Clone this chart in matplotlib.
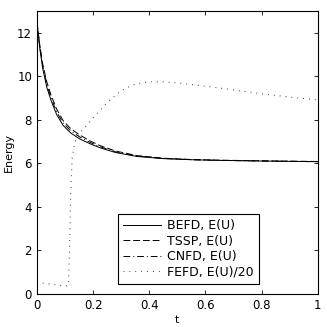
import matplotlib
matplotlib.use("Agg")
import matplotlib.pyplot as plt

# energy curves
t_e = [0, 0.01, 0.02, 0.035, 0.05, 0.07, 0.093, 0.12, 0.153, 0.19, 0.224, 0.28, 0.356, 0.45, 0.55, 0.65, 0.8, 1.0]
befd = [12.5, 11.3, 10.4, 9.5, 8.9, 8.25, 7.75, 7.4, 7.12, 6.9, 6.72, 6.5, 6.32, 6.22, 6.17, 6.14, 6.11, 6.08]
tssp = [12.5, 11.45, 10.6, 9.75, 9.15, 8.5, 7.97, 7.6, 7.3, 7.03, 6.82, 6.57, 6.36, 6.24, 6.18, 6.15, 6.12, 6.09]
cnfd = [12.5, 11.38, 10.5, 9.62, 9.02, 8.37, 7.86, 7.5, 7.21, 6.96, 6.77, 6.53, 6.34, 6.23, 6.17, 6.14, 6.11, 6.08]

t_f = [0, 0.02, 0.05, 0.08, 0.1, 0.112, 0.116, 0.12, 0.125, 0.135, 0.16, 0.2, 0.25, 0.3, 0.35, 0.4, 0.45, 0.5, 0.6, 0.7, 0.8, 0.9, 1.0]
fefd = [0.55, 0.5, 0.45, 0.4, 0.37, 0.38, 2.0, 4.5, 6.2, 7.0, 7.5, 8.1, 8.8, 9.35, 9.65, 9.75, 9.75, 9.7, 9.55, 9.38, 9.2, 9.05, 8.92]

plt.rc('font', size=8)
fig = plt.figure(figsize=(3.27, 3.27), dpi=100)
ax = fig.add_axes([0.113, 0.101, 0.859, 0.865])

ax.plot(t_e, befd, color='k', ls='-', lw=0.7, label='BEFD, E(U)')
ax.plot(t_e, tssp, color='k', lw=0.7, dashes=(7, 3), label='TSSP, E(U)')
ax.plot(t_e, cnfd, color='k', lw=0.7, dashes=(7, 3, 1, 3), label='CNFD, E(U)')
ax.plot(t_f, fefd, color='0.25', lw=0.8, dashes=(0.8, 4.5), label='FEFD, E(U)/20')

ax.set_xlim(0, 1)
ax.set_ylim(0, 13)
ax.set_xticks([0, 0.2, 0.4, 0.6, 0.8, 1])
ax.set_xticklabels(['0', '0.2', '0.4', '0.6', '0.8', '1'])
ax.set_yticks([0, 2, 4, 6, 8, 10, 12])
ax.tick_params(direction='in', top=True, right=True, length=3, width=0.6, labelsize=8.5)
for s in ax.spines.values():
    s.set_linewidth(0.8)
ax.set_xlabel('t', labelpad=2)
ax.set_ylabel('Energy', labelpad=2)

leg = ax.legend(loc='lower left', bbox_to_anchor=(0.267, 0.014), fancybox=False,
                edgecolor='k', framealpha=1, handlelength=3.0, handletextpad=0.5,
                borderpad=0.4, labelspacing=0.2, fontsize=9)
leg.get_frame().set_linewidth(0.8)

fig.savefig('out.png', dpi=100)
